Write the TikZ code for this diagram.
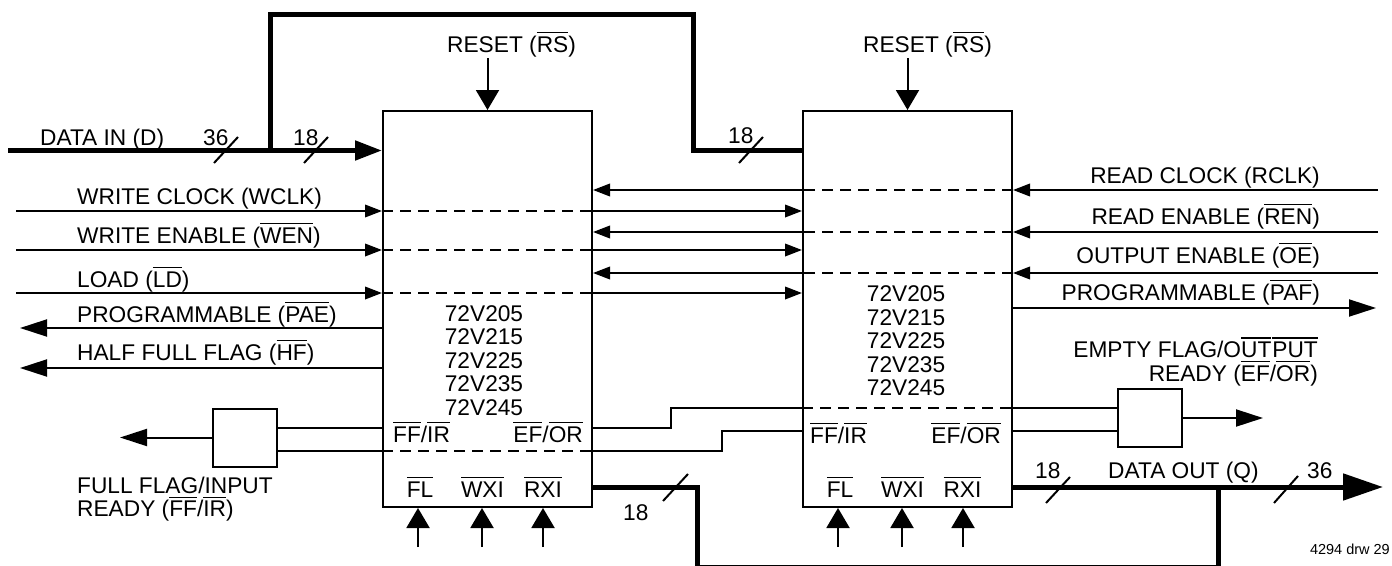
\documentclass[tikz,border=0pt]{standalone}
\usepackage{fontspec}
\setmainfont{Liberation Sans}
\usetikzlibrary{arrows.meta}
\newsavebox\ovlbox
\newcommand{\ovl}[1]{\sbox\ovlbox{#1}\rlap{\raisebox{\dimexpr\ht\ovlbox+3pt\relax}{\rule{\wd\ovlbox}{1.5pt}}}\usebox\ovlbox}
\tikzset{
    fifo/.style={draw, line width=2pt, minimum width=209pt, minimum height=396pt, inner sep=0pt},
    flagbox/.style={draw, line width=2pt, minimum width=64pt, minimum height=58pt, inner sep=0pt},
    sig/.style={line width=2pt},
    bus/.style={line width=5pt},
    inner/.style={line width=2pt, dash pattern=on 11pt off 7pt},
    sigtip/.style={-{Triangle[length=17pt,width=12.5pt]}},
    outtip/.style={-{Triangle[length=27pt,width=17pt]}},
    pintip/.style={-{Triangle[length=20pt,width=23pt]}}
}
\begin{document}
\begin{tikzpicture}[x=1pt, y=-1pt, font=\fontsize{22.7}{23.5}\selectfont, every node/.append style={inner sep=0pt}]
    \useasboundingbox (0,0) rectangle (1392,565);
    % FIFOs and flag gates
    \node[fifo] (fifoL) at (487.5,309) {};
    \node[fifo] (fifoR) at (907.5,309) {};
    \node[flagbox] (ffgate) at (245,437.5) {};
    \node[flagbox] (efgate) at (1150,418) {};
    % free ends and bends
    \coordinate (din) at (8,150.5);
    \coordinate (split) at (270,150.5);
    \coordinate (hop) at (693,14);
    \coordinate (wclk) at (16,211);
    \coordinate (wen) at (16,250);
    \coordinate (ld) at (16,293);
    \coordinate (pae) at (20,328);
    \coordinate (hf) at (20,368);
    \coordinate (rclk) at (1378,190);
    \coordinate (ren) at (1378,232);
    \coordinate (oe) at (1378,273);
    \coordinate (paf) at (1376,308);
    \coordinate (flagrow) at (0,428);
    \coordinate (xferrow) at (0,450.5);
    \coordinate (jogA) at (671,408);
    \coordinate (jogB) at (722,431);
    \coordinate (ffout) at (120,437.5);
    \coordinate (efout) at (1263,418);
    \coordinate (rxo) at (0,487);
    \coordinate (loop) at (697,567.5);
    \coordinate (tap) at (1218,487);
    \coordinate (dout) at (1383,487);
    \coordinate (rsL) at (487.5,58);
    \coordinate (rsR) at (907.5,58);
    \coordinate (flL) at (418,547);
    \coordinate (wxiL) at (482,547);
    \coordinate (rxiL) at (543,547);
    \coordinate (flR) at (838,547);
    \coordinate (wxiR) at (902,547);
    \coordinate (rxiR) at (963,547);
    % data buses
    \draw[bus,-{Triangle[length=27pt,width=19pt]}] (din) -- (din -| fifoL.west);
    \draw[bus] (split) |- (hop) |- (din -| fifoR.west);
    \draw[bus] (rxo -| fifoL.east) -| (loop) -| (tap);
    \draw[bus,-{Triangle[length=40pt,width=26pt]}] (dout -| fifoR.east) -- (dout);
    \draw[sig] (214,163) -- (238,137);
    \draw[sig] (304,163) -- (328,137);
    \draw[sig] (739,163) -- (763,137);
    \draw[sig] (663,501) -- (688,474);
    \draw[sig] (1046,503) -- (1070,477);
    \draw[sig] (1274,503) -- (1298,476);
    % reset and pins
    \draw[sig,pintip] (rsL) -- (rsL |- fifoL.north);
    \draw[sig,pintip] (rsR) -- (rsR |- fifoR.north);
    \draw[sig,pintip] (flL) -- (flL |- fifoL.south);
    \draw[sig,pintip] (wxiL) -- (wxiL |- fifoL.south);
    \draw[sig,pintip] (rxiL) -- (rxiL |- fifoL.south);
    \draw[sig,pintip] (flR) -- (flR |- fifoR.south);
    \draw[sig,pintip] (wxiR) -- (wxiR |- fifoR.south);
    \draw[sig,pintip] (rxiR) -- (rxiR |- fifoR.south);
    % write side
    \draw[sig,sigtip] (wclk) -- (wclk -| fifoL.west);
    \draw[inner] (wclk -| fifoL.west) -- (wclk -| fifoL.east);
    \draw[sig,sigtip] (wclk -| fifoL.east) -- (wclk -| fifoR.west);
    \draw[sig,sigtip] (wen) -- (wen -| fifoL.west);
    \draw[inner] (wen -| fifoL.west) -- (wen -| fifoL.east);
    \draw[sig,sigtip] (wen -| fifoL.east) -- (wen -| fifoR.west);
    \draw[sig,sigtip] (ld) -- (ld -| fifoL.west);
    \draw[inner] (ld -| fifoL.west) -- (ld -| fifoL.east);
    \draw[sig,sigtip] (ld -| fifoL.east) -- (ld -| fifoR.west);
    \draw[sig,outtip] (pae -| fifoL.west) -- (pae);
    \draw[sig,outtip] (hf -| fifoL.west) -- (hf);
    % read side
    \draw[sig,sigtip] (rclk) -- (rclk -| fifoR.east);
    \draw[inner] (rclk -| fifoR.east) -- (rclk -| fifoR.west);
    \draw[sig,sigtip] (rclk -| fifoR.west) -- (rclk -| fifoL.east);
    \draw[sig,sigtip] (ren) -- (ren -| fifoR.east);
    \draw[inner] (ren -| fifoR.east) -- (ren -| fifoR.west);
    \draw[sig,sigtip] (ren -| fifoR.west) -- (ren -| fifoL.east);
    \draw[sig,sigtip] (oe) -- (oe -| fifoR.east);
    \draw[inner] (oe -| fifoR.east) -- (oe -| fifoR.west);
    \draw[sig,sigtip] (oe -| fifoR.west) -- (oe -| fifoL.east);
    \draw[sig,outtip] (paf -| fifoR.east) -- (paf);
    % flags
    \draw[sig] (flagrow -| fifoL.west) -- (flagrow -| ffgate.east);
    \draw[sig] (xferrow -| fifoL.west) -- (xferrow -| ffgate.east);
    \draw[inner] (xferrow -| fifoL.west) -- (xferrow -| fifoL.east);
    \draw[sig] (flagrow -| fifoL.east) -| (jogA) -- (jogA -| fifoR.west);
    \draw[sig] (xferrow -| fifoL.east) -| (jogB) -- (jogB -| fifoR.west);
    \draw[inner] (jogA -| fifoR.west) -- (jogA -| fifoR.east);
    \draw[sig] (jogA -| fifoR.east) -- (jogA -| efgate.west);
    \draw[sig] (jogB -| fifoR.east) -- (jogB -| efgate.west);
    \draw[sig,outtip] (ffgate.west) -- (ffout);
    \draw[sig,outtip] (efgate.east) -- (efout);
    % labels
    \node[anchor=base west] (dinlbl) at (40,145) {DATA IN (D)};
    \node[anchor=base west] (din36) at (203,145) {36};
    \node[anchor=base west] (din18) at (293,145) {18};
    \node[anchor=base west] (top18) at (728,143) {18};
    \node[anchor=base west] (rxo18) at (623,520) {18};
    \node[anchor=base west] (dout18) at (1035,478) {18};
    \node[anchor=base west] (doutlbl) at (1108,478) {DATA OUT (Q)};
    \node[anchor=base west] (dout36) at (1307,478) {36};
    \node[anchor=base west] (rslblL) at (447,52) {RESET (\ovl{RS})};
    \node[anchor=base west] (rslblR) at (863,52) {RESET (\ovl{RS})};
    \node[anchor=base west] (wclklbl) at (77,204) {WRITE CLOCK (WCLK)};
    \node[anchor=base west] (wenlbl) at (77,243) {WRITE ENABLE (\ovl{WEN})};
    \node[anchor=base west] (ldlbl) at (77,287) {LOAD (\ovl{LD})};
    \node[anchor=base west] (paelbl) at (77,322) {PROGRAMMABLE (\ovl{PAE})};
    \node[anchor=base west] (hflbl) at (77,360) {HALF FULL FLAG (\ovl{HF})};
    \node[anchor=base east] (rclklbl) at (1320,183) {READ CLOCK (RCLK)};
    \node[anchor=base east] (renlbl) at (1320,224) {READ ENABLE (\ovl{REN})};
    \node[anchor=base east] (oelbl) at (1320,263) {OUTPUT ENABLE (\ovl{OE})};
    \node[anchor=base east] (paflbl) at (1320,300) {PROGRAMMABLE (\ovl{PAF})};
    \node[align=left, anchor=north west] (fflbl) at (77,476.7) {FULL FLAG/INPUT\\READY (\ovl{FF}/\ovl{IR})};
    \node[align=right, anchor=north east] (eflbl) at (1318,337.2) {EMPTY FLAG/O\ovl{UT}\kern1pt\ovl{PUT}\\READY (\ovl{EF}/\ovl{OR})};
    \node[align=center, anchor=north] (partsL) at (484,305.2) {72V205\\72V215\\72V225\\72V235\\72V245};
    \node[align=center, anchor=north] (partsR) at (906,285.7) {72V205\\72V215\\72V225\\72V235\\72V245};
    \node[anchor=base west] (ffL) at (393,442) {\ovl{FF}/\ovl{IR}};
    \node[anchor=base east] (efL) at (583,442) {\ovl{EF}/\ovl{OR}};
    \node[anchor=base west] (ffR) at (810,443) {\ovl{FF}/\ovl{IR}};
    \node[anchor=base east] (efR) at (1001,443) {\ovl{EF}/\ovl{OR}};
    \node[anchor=base] (flLlbl) at (420,497) {\ovl{FL}};
    \node[anchor=base] (wxiLlbl) at (482.5,497) {\ovl{WXI}};
    \node[anchor=base] (rxiLlbl) at (543,497) {\ovl{RXI}};
    \node[anchor=base] (flRlbl) at (840,497) {\ovl{FL}};
    \node[anchor=base] (wxiRlbl) at (902.5,497) {\ovl{WXI}};
    \node[anchor=base] (rxiRlbl) at (962.5,497) {\ovl{RXI}};
    \node[anchor=base east, font=\fontsize{14.5}{16}\selectfont] (drw) at (1390,554) {4294 drw 29};
\end{tikzpicture}
\end{document}
